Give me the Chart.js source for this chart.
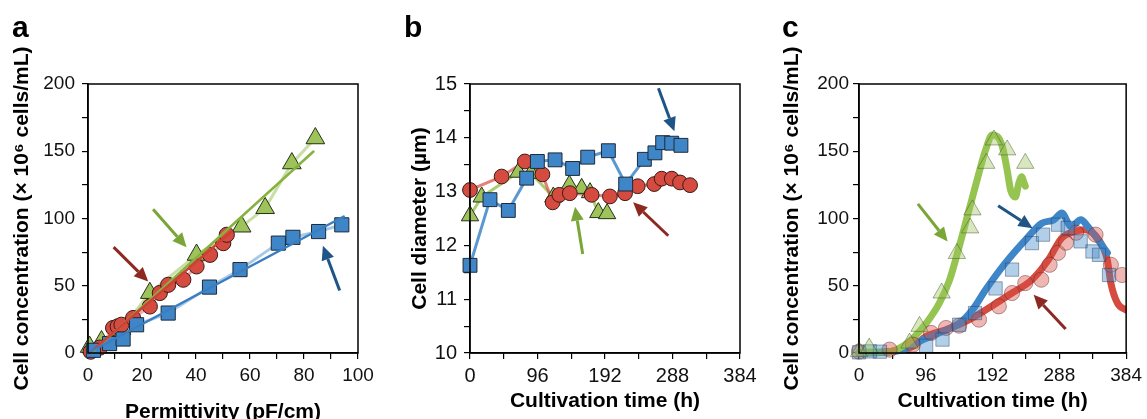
<!DOCTYPE html>
<html>
<head>
<meta charset="utf-8">
<script src="https://cdn.jsdelivr.net/npm/chart.js@4.4.1/dist/chart.umd.min.js"></script>
<style>
  body { margin: 0; background: #fff; width: 1147px; height: 419px; overflow: hidden; position: relative; }
  canvas { position: absolute; top: 0; }
  .tag { position: absolute; font: bold 30px "Liberation Sans", Arial, sans-serif; line-height: 30px; color: #000; }
</style>
</head>
<body>
<canvas id="chartA" width="380" height="440" style="left:0px"></canvas>
<canvas id="chartB" width="380" height="440" style="left:390px"></canvas>
<canvas id="chartC" width="377" height="440" style="left:770px"></canvas>
<div class="tag" style="left:12px;top:12px">a</div>
<div class="tag" style="left:404px;top:12px">b</div>
<div class="tag" style="left:782px;top:12px">c</div>
<script>
// ---- Panel a: cell concentration vs permittivity ----
const aBluePerm = [2, 8, 13, 18, 29.7, 45, 56.3, 70.5, 75.9, 85.4, 94];
const aBlueConc = [2, 7, 10.4, 21, 29.7, 49, 62, 81.7, 86, 90.3, 95.3];
const aRedPerm = [1, 4.4, 9.3, 11, 12.4, 16.7, 22.9, 26.6, 29.7, 35.3, 40.2, 45.2, 50.1, 51.4];
const aRedConc = [1, 4, 18.6, 19.8, 21, 26, 34.6, 44.6, 50.7, 54.5, 64.4, 73, 81.7, 87.9];
const aGreenPerm = [0.6, 5, 12.4, 22.9, 40.2, 56.9, 65.6, 75.5, 84.2];
const aGreenConc = [4.5, 8.7, 17.8, 44.6, 73, 94, 107.7, 141, 159.6];
// regression lines (end points)
const aBlueFitX = [0, 94.7], aBlueFitY = [0, 101.5];
const aRedFitX = [0.6, 53.2], aRedFitY = [0, 90.3];
const aGreenFitX = [1.2, 83.5], aGreenFitY = [0, 149.8];
// arrows: [fromX, fromY, toX, toY]
const aArrowGreen = [24.1, 106.9, 36.5, 78.7];
const aArrowRed = [9.5, 78.7, 22.3, 53.2];
const aArrowBlue = [93.2, 46.5, 87, 79.7];

// ---- Panel b: cell diameter vs cultivation time ----
const bBlueTime = [0, 28.4, 54.5, 80.6, 95.8, 121, 146, 167.4, 196.8, 221.4, 248, 263, 274, 286.9, 300];
const bBlueDiam = [11.63, 12.85, 12.65, 13.25, 13.56, 13.59, 13.43, 13.64, 13.76, 13.14, 13.6, 13.72, 13.91, 13.9, 13.86];
const bRedTime = [0, 45, 78, 103, 117.6, 127, 142, 173, 199, 220.5, 238.5, 262, 272.6, 287, 298.7, 313];
const bRedDiam = [13.03, 13.28, 13.56, 13.32, 12.8, 12.94, 12.97, 12.94, 12.91, 12.97, 13.1, 13.14, 13.24, 13.24, 13.17, 13.12];
const bGreenTime = [0, 16.6, 68.8, 86.8, 118.5, 141.3, 158.8, 170.7, 182.5, 195];
const bGreenDiam = [12.55, 12.9, 13.36, 13.34, 12.9, 13.12, 13.06, 12.98, 12.61, 12.59];
const bArrowBlue = [268, 14.92, 290.7, 14.12];
const bArrowGreen = [160.3, 11.84, 149.4, 12.72];
const bArrowRed = [282, 12.18, 232, 12.8];

// ---- Panel c: cell concentration vs cultivation time ----
const cGreenLineTime = [0, 44, 63, 77.5, 96.5, 115.5, 130, 144, 158, 172.5, 182, 191.5, 198.7, 206, 213, 218, 224.8, 229.6, 234, 237, 239];
const cGreenLineConc = [0.5, 1, 5, 11, 22, 37, 54, 79, 106, 134, 151, 162, 161, 153.5, 136, 121, 116, 126, 131, 127, 124];
const cBlueLineTime = [0, 30, 63, 87, 115.5, 144, 163, 182, 210.5, 239, 262.8, 280, 291.6, 304.8, 319, 329, 343.6, 357];
const cBlueLineConc = [0, 0.5, 2.5, 8.7, 15, 22, 32, 47, 67, 84, 96.5, 99, 104, 94, 99, 94, 84, 74.5];
const cRedLineTime = [0, 44, 77.5, 96.5, 125, 153.5, 182, 220, 248.6, 272.3, 291.3, 310, 324, 345, 357, 362, 371.5, 384];
const cRedLineConc = [0, 1, 5, 12.4, 17.3, 23.5, 32, 44.6, 54.5, 69.3, 85.4, 90.3, 91.7, 84, 69, 52, 37, 32];
const cGreenTime = [0, 14.7, 72.7, 87, 118.8, 140.7, 159.7, 163, 183, 194, 213, 239];
const cGreenConc = [1, 3.7, 7.4, 19.8, 44.6, 74, 93, 106.4, 141, 158.4, 151, 141];
const cBlueTime = [0, 15.7, 30, 96.5, 120, 144, 166.8, 196.3, 220, 248.6, 264.5, 286, 300, 318.6, 335.6, 345, 359.4];
const cBlueConc = [0.5, 1.2, 1, 5.4, 10, 21, 29.7, 48, 62, 81.7, 88, 95.4, 93, 83, 75.5, 73, 58];
const cRedTime = [0, 44, 77.5, 103.6, 125, 144, 172.5, 201, 220, 239, 262, 274, 286, 297.6, 312, 340, 362, 378];
const cRedConc = [1, 2.5, 6.2, 14.9, 18.6, 20.3, 24.8, 34.7, 44.6, 52, 54.5, 65.6, 74.5, 82, 89.4, 88, 65.6, 58];
const cArrowGreen = [84.6, 110.9, 127.4, 82.9];
const cArrowBlue = [200, 109.4, 249.5, 92.8];
const cArrowRed = [297, 17.8, 251, 43.3];

const BLUE = '#3f86c8', RED = '#d64b40', GREEN = '#9dc35a';
const ARROW_BLUE = '#1e5486', ARROW_RED = '#8c2a22', ARROW_GREEN = '#79a637';

Chart.defaults.font.family = '"Liberation Sans", Arial, sans-serif';
Chart.defaults.color = '#111';

function pts(xs, ys) {
    return xs.map((x, i) => ({ x: x, y: ys[i] }));
}

function marks(xs, ys, shape, fill, r, edge, clip) {
    return {
        type: 'scatter', data: pts(xs, ys), showLine: false,
        pointStyle: shape, pointRadius: r, pointHoverRadius: r,
        pointBackgroundColor: fill, pointBorderColor: edge, pointBorderWidth: 1,
        order: 1, clip: clip
    };
}

function line(xs, ys, color, width, order, clip, smooth) {
    return {
        type: 'line', data: pts(xs, ys), borderColor: color, borderWidth: width,
        pointRadius: 0, fill: false, tension: 0,
        cubicInterpolationMode: smooth ? 'monotone' : 'default',
        borderCapStyle: 'round', borderJoinStyle: 'round',
        order: order, clip: clip
    };
}

function drawArrow(ctx, x1, y1, x2, y2, color) {
    const ang = Math.atan2(y2 - y1, x2 - x1), head = 14, half = 6.5;
    const bx = x2 - head * Math.cos(ang), by = y2 - head * Math.sin(ang);
    ctx.save();
    ctx.strokeStyle = color;
    ctx.fillStyle = color;
    ctx.lineWidth = 3;
    ctx.beginPath();
    ctx.moveTo(x1, y1);
    ctx.lineTo(bx, by);
    ctx.stroke();
    ctx.beginPath();
    ctx.moveTo(x2, y2);
    ctx.lineTo(bx + half * Math.sin(ang), by - half * Math.cos(ang));
    ctx.lineTo(bx - half * Math.sin(ang), by + half * Math.cos(ang));
    ctx.closePath();
    ctx.fill();
    ctx.restore();
}

// arrows + box frame around the plot area
function decor(arrows) {
    return {
        id: 'decor',
        afterDatasetsDraw(chart) {
            const ctx = chart.ctx, sx = chart.scales.x, sy = chart.scales.y;
            arrows.forEach(a => {
                drawArrow(ctx, sx.getPixelForValue(a[0]), sy.getPixelForValue(a[1]),
                    sx.getPixelForValue(a[2]), sy.getPixelForValue(a[3]), a[4]);
            });
            const c = chart.chartArea;
            ctx.save();
            ctx.strokeStyle = '#000';
            ctx.lineWidth = 1.5;
            ctx.strokeRect(c.left, c.top, c.right - c.left, c.bottom - c.top);
            ctx.restore();
        }
    };
}

function scales(o) {
    const grid = { display: true, drawOnChartArea: false, drawTicks: true, tickLength: 6, color: '#000', lineWidth: 1.2 };
    const border = { display: true, color: '#000', width: 1.5 };
    return {
        x: {
            type: 'linear', min: o.xMin, max: o.xMax, grid: grid, border: border,
            ticks: { stepSize: o.xStep, autoSkip: false, maxRotation: 0, padding: 5, font: { size: o.tickSize },
                callback: v => (v % o.xMajor === 0 ? v : '') },
            title: { display: true, text: o.xTitle, color: '#000', font: { size: 21, weight: 'bold' }, padding: { top: 0, bottom: o.xTitlePad } },
            afterFit: s => { s.height = o.xHeight; }
        },
        y: {
            type: 'linear', min: o.yMin, max: o.yMax, grid: grid, border: border,
            ticks: { stepSize: o.yStep, autoSkip: false, padding: o.yTickPad, font: { size: o.tickSize },
                callback: v => (Math.abs(v % o.yMajor) < 1e-9 ? v : '') },
            title: { display: true, text: o.yTitle, color: '#000', font: { size: 21, weight: 'bold' }, padding: { top: o.yTitlePad, bottom: 0 } },
            afterFit: s => { s.width = o.yWidth; }
        }
    };
}

function makeChart(id, datasets, sc, arrows, padRight) {
    return new Chart(document.getElementById(id), {
        type: 'scatter',
        data: { datasets: datasets },
        options: {
            responsive: false, animation: false,
            layout: { padding: { top: 84, right: padRight, left: 0, bottom: 0 } },
            plugins: { legend: { display: false }, tooltip: { enabled: false } },
            scales: sc
        },
        plugins: [decor(arrows)]
    });
}

const CONC_TITLE = 'Cell concentration (\u00d7 10\u2076 cells/mL)';

// Panel a
makeChart('chartA', [
    line(aBlueFitX, aBlueFitY, '#3a7ec2', 2.5, 0, false),
    line(aRedFitX, aRedFitY, '#cc4036', 2.5, 0, false),
    line(aGreenFitX, aGreenFitY, '#86b33e', 2.5, 0, false),
    marks(aBluePerm, aBlueConc, 'rect', BLUE, 10, '#1d2a38', false),
    marks(aRedPerm, aRedConc, 'circle', RED, 7.6, '#3a1a16', false),
    marks(aGreenPerm, aGreenConc, 'triangle', GREEN, 10.8, '#26301a', false),
    line(aBluePerm, aBlueConc, 'rgba(63,134,200,0.45)', 3, 2, false),
    line(aRedPerm, aRedConc, 'rgba(214,75,64,0.45)', 3, 2, false),
    line(aGreenPerm, aGreenConc, 'rgba(157,195,90,0.55)', 3, 2, false)
], scales({
    xMin: 0, xMax: 100, xStep: 10, xMajor: 20, xTitle: 'Permittivity (pF/cm)', xTitlePad: 15, xHeight: 87,
    yMin: 0, yMax: 200, yStep: 25, yMajor: 50, yTitle: CONC_TITLE, yTitlePad: 10, yWidth: 88, yTickPad: 7,
    tickSize: 19
}), [
    aArrowGreen.concat([ARROW_GREEN]),
    aArrowRed.concat([ARROW_RED]),
    aArrowBlue.concat([ARROW_BLUE])
], 22);

// Panel b
makeChart('chartB', [
    marks(bBlueTime, bBlueDiam, 'rect', BLUE, 9.8, '#1d2a38', false),
    marks(bRedTime, bRedDiam, 'circle', RED, 7.4, '#3a1a16', false),
    marks(bGreenTime, bGreenDiam, 'triangle', GREEN, 10, '#26301a', false),
    line(bBlueTime, bBlueDiam, 'rgba(63,134,200,0.85)', 3, 2, false),
    line(bRedTime, bRedDiam, 'rgba(214,75,64,0.7)', 3, 2, false),
    line(bGreenTime, bGreenDiam, 'rgba(157,195,90,0.85)', 3, 2, false)
], scales({
    xMin: 0, xMax: 384, xStep: 48, xMajor: 96, xTitle: 'Cultivation time (h)', xTitlePad: 26, xHeight: 87,
    yMin: 10, yMax: 15, yStep: 0.5, yMajor: 1, yTitle: 'Cell diameter (\u00b5m)', yTitlePad: 18, yWidth: 80, yTickPad: 7,
    tickSize: 20
}), [
    bArrowBlue.concat([ARROW_BLUE]),
    bArrowGreen.concat([ARROW_GREEN]),
    bArrowRed.concat([ARROW_RED])
], 30);

// Panel c
const clipRight = { left: false, top: false, right: 0, bottom: false };
makeChart('chartC', [
    marks(cGreenTime, cGreenConc, 'triangle', 'rgba(157,195,90,0.4)', 10, 'rgba(60,80,40,0.45)', clipRight),
    marks(cBlueTime, cBlueConc, 'rect', 'rgba(63,134,200,0.4)', 9.4, 'rgba(40,60,90,0.45)', clipRight),
    marks(cRedTime, cRedConc, 'circle', 'rgba(214,75,64,0.4)', 7.6, 'rgba(90,40,40,0.45)', clipRight),
    line(cGreenLineTime, cGreenLineConc, '#96c450', 7, 2, clipRight, true),
    line(cBlueLineTime, cBlueLineConc, '#3f86c8', 7, 2, clipRight, true),
    line(cRedLineTime, cRedLineConc, '#d64b40', 7, 2, clipRight, true)
], scales({
    xMin: 0, xMax: 384, xStep: 48, xMajor: 96, xTitle: 'Cultivation time (h)', xTitlePad: 26, xHeight: 87,
    yMin: 0, yMax: 200, yStep: 25, yMajor: 50, yTitle: CONC_TITLE, yTitlePad: 10, yWidth: 89, yTickPad: 4,
    tickSize: 19
}), [
    cArrowGreen.concat([ARROW_GREEN]),
    cArrowBlue.concat([ARROW_BLUE]),
    cArrowRed.concat([ARROW_RED])
], 19);
</script>
</body>
</html>
